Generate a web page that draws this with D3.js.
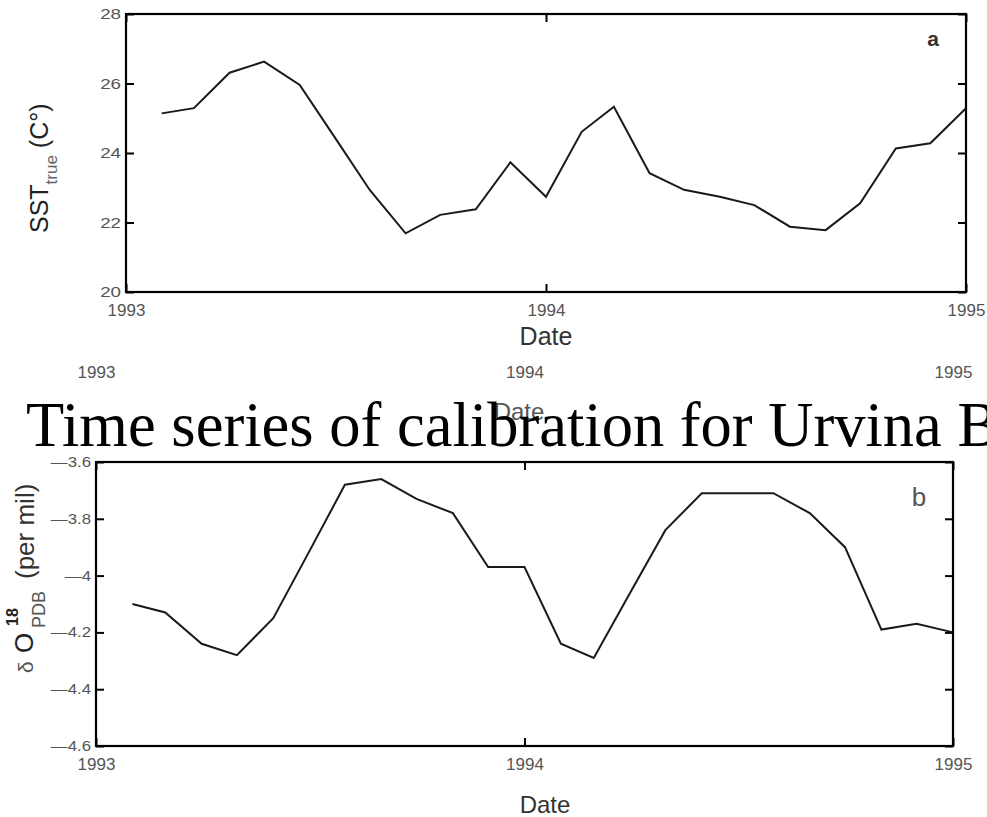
<!DOCTYPE html>
<html>
<head>
<meta charset="utf-8">
<script src="https://cdn.jsdelivr.net/npm/d3@7/dist/d3.min.js"></script>
<style>
  html, body { margin: 0; padding: 0; background: #fff; }
  svg { display: block; }
</style>
</head>
<body>
<svg id="fig" width="987" height="817"></svg>
<script>
// Monthly samples, Feb 1993 .. Jan 1995
const months = [
  "1993-02", "1993-03", "1993-04", "1993-05", "1993-06", "1993-07",
  "1993-08", "1993-09", "1993-10", "1993-11", "1993-12", "1994-01",
  "1994-02", "1994-03", "1994-04", "1994-05", "1994-06", "1994-07",
  "1994-08", "1994-09", "1994-10", "1994-11", "1994-12", "1995-01"
];
// (a) sea surface temperature, deg C
const sstTrue = [
  25.14, 25.29, 26.31, 26.63, 25.96, 24.47, 22.93, 21.69, 22.22, 22.38, 23.73, 22.74,
  24.61, 25.33, 23.42, 22.94, 22.74, 22.50, 21.88, 21.78, 22.55, 24.13, 24.28, 25.29
];
// (b) delta O-18 (PDB), per mil
const d18O = [
  -4.10, -4.13, -4.24, -4.28, -4.15, -3.92, -3.68, -3.66, -3.73, -3.78, -3.97, -3.97,
  -4.24, -4.29, -4.06, -3.84, -3.71, -3.71, -3.71, -3.78, -3.90, -4.19, -4.17, -4.20
];
const yearTicks = ["1993", "1994", "1995"];
const sstTicks = [20, 22, 24, 26, 28];
const d18OTicks = [-4.6, -4.4, -4.2, -4.0, -3.8, -3.6];
const titleText = "Time series of calibration for Urvina Bay";

const parseMonth = d3.timeParse("%Y-%m");
const parseYear = d3.timeParse("%Y");
const dates = months.map(parseMonth);
const yearDates = yearTicks.map(parseYear);

const svg = d3.select("#fig");
const SANS = '"Liberation Sans", Arial, Helvetica, sans-serif';

function panel(cfg) {
  const { left, right, top, bottom } = cfg;
  const x = d3.scaleTime().domain([yearDates[0], yearDates[2]]).range([left, right]);
  const y = d3.scaleLinear().domain(cfg.yDomain).range([bottom, top]);
  const g = svg.append("g");

  // bottom axis with labels, ticks pointing inward
  const xb = g.append("g").attr("transform", `translate(0,${bottom})`)
    .call(d3.axisBottom(x).tickValues(yearDates).tickFormat(d3.timeFormat("%Y"))
      .tickSizeInner(-8).tickSizeOuter(0).tickPadding(cfg.xPad));
  // top axis, ticks only
  const xt = g.append("g").attr("transform", `translate(0,${top})`)
    .call(d3.axisBottom(x).tickValues(yearDates).tickFormat("").tickSizeInner(8).tickSizeOuter(0));
  // left axis with labels
  const yl = g.append("g").attr("transform", `translate(${left},0)`)
    .call(d3.axisLeft(y).tickValues(cfg.yTicks).tickFormat(cfg.yFormat)
      .tickSizeInner(-8).tickSizeOuter(0).tickPadding(5));
  // right axis, ticks only
  const yr = g.append("g").attr("transform", `translate(${right},0)`)
    .call(d3.axisLeft(y).tickValues(cfg.yTicks).tickFormat("").tickSizeInner(8).tickSizeOuter(0));

  [xb, xt, yl, yr].forEach(a => {
    a.select(".domain").remove();
    a.selectAll(".tick line").attr("stroke", "#000").attr("stroke-width", 2);
  });
  xb.selectAll(".tick text")
    .attr("font-family", SANS).attr("font-size", cfg.xFont).attr("fill", "#555");
  yl.selectAll(".tick text")
    .attr("font-family", SANS).attr("font-size", cfg.yFont).attr("fill", "#555")
    .each(function () {
      const w = this.getComputedTextLength();
      d3.select(this).attr("textLength", w * cfg.yStretch).attr("lengthAdjust", "spacingAndGlyphs");
    });

  // frame
  g.append("rect")
    .attr("x", left).attr("y", top)
    .attr("width", right - left).attr("height", bottom - top)
    .attr("fill", "none").attr("stroke", "#000").attr("stroke-width", 2.2);

  // series
  const line = d3.line().x((d, i) => x(dates[i])).y(d => y(d));
  g.append("path").datum(cfg.values)
    .attr("d", line)
    .attr("fill", "none").attr("stroke", "#1a1a1a").attr("stroke-width", 2)
    .attr("stroke-linejoin", "miter");

  return { x, y, g };
}

// ---- panel a: SST ----
const pa = panel({
  left: 126, right: 966, top: 14, bottom: 292,
  yDomain: [20, 28], yTicks: sstTicks, yFormat: d3.format("d"),
  values: sstTrue, xPad: 12, xFont: 17, yFont: 15, yStretch: 1.25
});

svg.append("text").attr("x", 546).attr("y", 345)
  .attr("text-anchor", "middle").attr("font-family", SANS)
  .attr("font-size", 25).attr("fill", "#333").text("Date");

svg.append("text").attr("x", 933).attr("y", 46)
  .attr("text-anchor", "middle").attr("font-family", SANS)
  .attr("font-size", 21).attr("font-weight", "bold").attr("fill", "#333").text("a");

// y label: SST_true (C°)
const la = svg.append("g").attr("transform", "translate(48,233) rotate(-90)")
  .append("text").attr("font-family", SANS).attr("font-size", 25).attr("fill", "#222");
la.append("tspan").text("SST");
la.append("tspan").attr("font-size", 17).attr("dy", 9).attr("fill", "#666").text("true");
la.append("tspan").attr("dy", -9).text(" (C\u00B0)");

// ---- panel b: delta O-18 ----
const pb = panel({
  left: 96, right: 953, top: 462, bottom: 746,
  yDomain: [-4.6, -3.6], yTicks: d18OTicks,
  yFormat: d => (d < 0 ? "\u2014" : "") + d3.format("~g")(Math.abs(d)),
  values: d18O, xPad: 12, xFont: 17, yFont: 14, yStretch: 1.2
});

// repeated date axis labels above the title
const mid = svg.append("g").attr("transform", "translate(0,354)")
  .call(d3.axisBottom(pb.x).tickValues(yearDates).tickFormat(d3.timeFormat("%Y"))
    .tickSize(0).tickPadding(12));
mid.select(".domain").remove();
mid.selectAll(".tick text").attr("font-family", SANS).attr("font-size", 17).attr("fill", "#555");

svg.append("text").attr("x", 519).attr("y", 420)
  .attr("text-anchor", "middle").attr("font-family", SANS)
  .attr("font-size", 24).attr("fill", "#555").text("Date");

svg.append("text").attr("x", 545).attr("y", 813)
  .attr("text-anchor", "middle").attr("font-family", SANS)
  .attr("font-size", 24).attr("fill", "#333").text("Date");

svg.append("text").attr("x", 919).attr("y", 506)
  .attr("text-anchor", "middle").attr("font-family", SANS)
  .attr("font-size", 26).attr("fill", "#555").text("b");

// y label: δ O18 PDB (per mil), set piece by piece in a rotated frame
const lb = svg.append("g").attr("transform", "rotate(-90)")
  .attr("font-family", SANS).attr("fill", "#222");
lb.append("text").attr("x", -673).attr("y", 33).attr("font-size", 21).attr("fill", "#555").text("\u03B4");
lb.append("text").attr("x", -653).attr("y", 33).attr("font-size", 26).text("O");
lb.append("text").attr("x", -626).attr("y", 18).attr("font-size", 16).attr("font-weight", "bold").text("18");
lb.append("text").attr("x", -628).attr("y", 45).attr("font-size", 18).attr("fill", "#555").text("PDB");
lb.append("text").attr("x", -579).attr("y", 34).attr("font-size", 26).attr("fill", "#333").text("(per mil)");

// ---- title, drawn over the repeated axis labels ----
svg.append("text").attr("x", 26).attr("y", 446)
  .attr("font-family", '"Liberation Serif", "Times New Roman", Times, serif')
  .attr("font-size", 62.5).attr("fill", "#000").text(titleText);
</script>
</body>
</html>
